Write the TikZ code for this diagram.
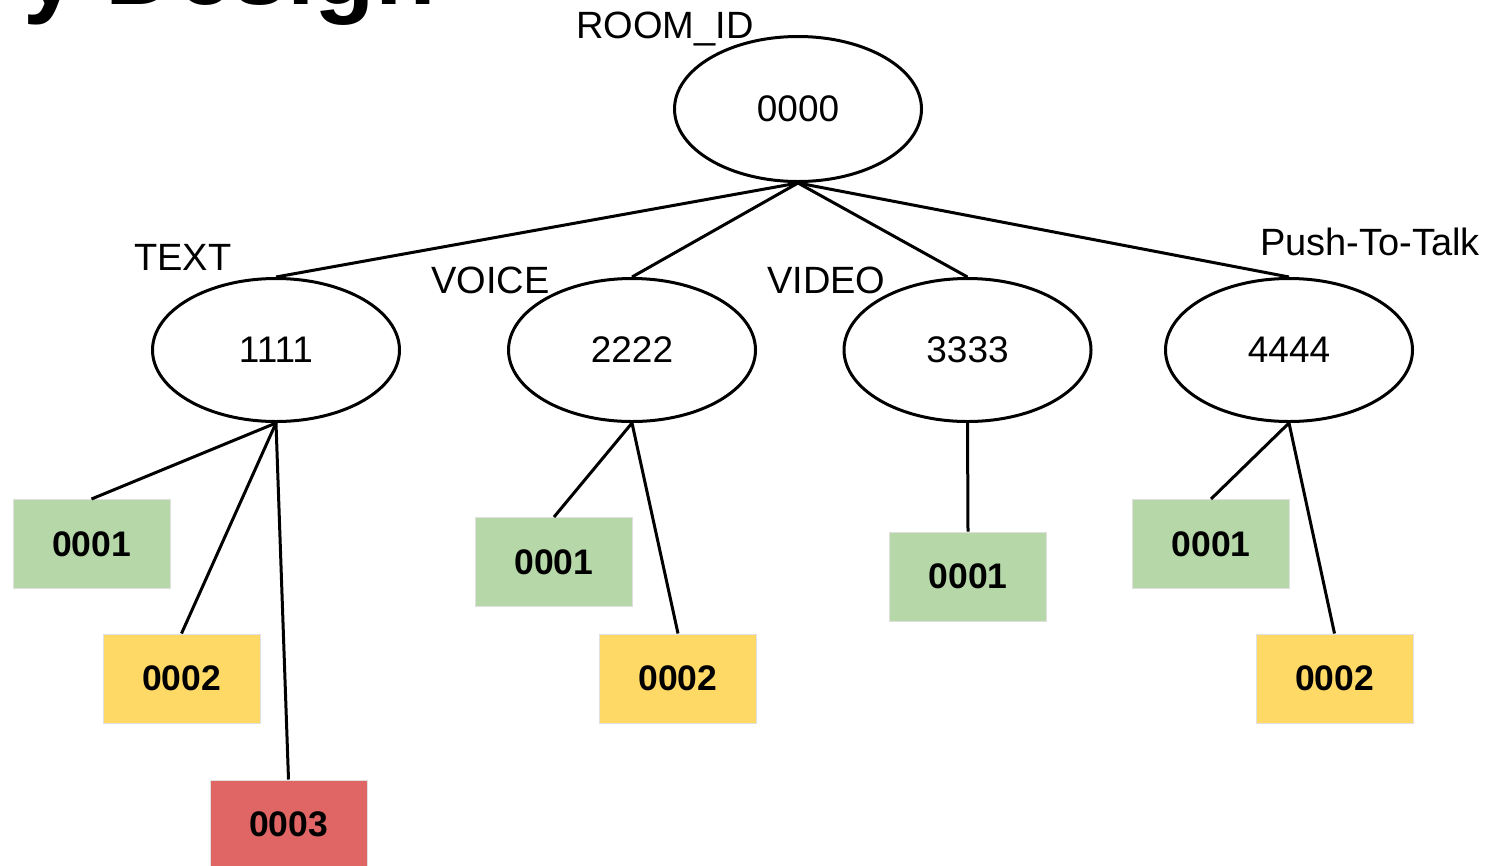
\documentclass[tikz,border=0pt]{standalone}
\usepackage{fontspec}
\setmainfont{Liberation Sans}
\usetikzlibrary{shapes.geometric}
\definecolor{boxgreen}{HTML}{B6D7A8}
\definecolor{boxyellow}{HTML}{FFD966}
\definecolor{boxred}{HTML}{E06666}
\begin{document}
\begin{tikzpicture}[x=1pt,y=-1pt,
  ell/.style={ellipse, draw=black, line width=3pt, minimum width=247pt, minimum height=143pt, inner sep=0pt, font=\fontsize{37}{44}\selectfont},
  idbox/.style={rectangle, draw=black!12, line width=1pt, minimum width=157pt, minimum height=89pt, inner sep=0pt, font=\fontsize{35.5}{42}\selectfont\bfseries},
  lab/.style={inner sep=0pt, anchor=base west, font=\fontsize{38}{45}\selectfont},
  conn/.style={line width=3pt, draw=black}]
\clip (0,0) rectangle (1495,865);
\fill[white] (0,0) rectangle (1495,865);
% cut-off title
\node[inner sep=0pt, anchor=base east, font=\fontsize{99}{110}\selectfont\bfseries] (title) at (436,4) {y Design};
% ellipses
\node[ell, minimum width=247pt, minimum height=145pt] (root) at (798,109) {0000};
\node[ell] (e1) at (276,350) {1111};
\node[ell] (e2) at (632,350) {2222};
\node[ell] (e3) at (967.5,350) {3333};
\node[ell] (e4) at (1289,350) {4444};
% labels
\node[lab] (lroot) at (576,38) {ROOM\_ID};
\node[lab] (l1) at (134,270) {TEXT};
\node[lab] (l2) at (431,293) {VOICE};
\node[lab] (l3) at (767,293) {VIDEO};
\node[lab] (l4) at (1260,255) {Push-To-Talk};
% boxes
\node[idbox, fill=boxgreen] (t1) at (91.5,544) {0001};
\node[idbox, fill=boxyellow] (t2) at (181.5,678.5) {0002};
\node[idbox, fill=boxred] (t3) at (288.5,824.5) {0003};
\node[idbox, fill=boxgreen] (v1) at (554,562) {0001};
\node[idbox, fill=boxyellow] (v2) at (678,678.5) {0002};
\node[idbox, fill=boxgreen] (d1) at (968,576.5) {0001};
\node[idbox, fill=boxgreen] (p1) at (1211,544) {0001};
\node[idbox, fill=boxyellow] (p2) at (1334.5,678.5) {0002};
% connectors
\draw[conn] (root.south) -- (e1.north);
\draw[conn] (root.south) -- (e2.north);
\draw[conn] (root.south) -- (e3.north);
\draw[conn] (root.south) -- (e4.north);
\draw[conn] (e1.south) -- (t1.north);
\draw[conn] (e1.south) -- (t2.north);
\draw[conn] (e1.south) -- (t3.north);
\draw[conn] (e2.south) -- (v1.north);
\draw[conn] (e2.south) -- (v2.north);
\draw[conn] (e3.south) -- (d1.north);
\draw[conn] (e4.south) -- (p1.north);
\draw[conn] (e4.south) -- (p2.north);
\end{tikzpicture}
\end{document}
